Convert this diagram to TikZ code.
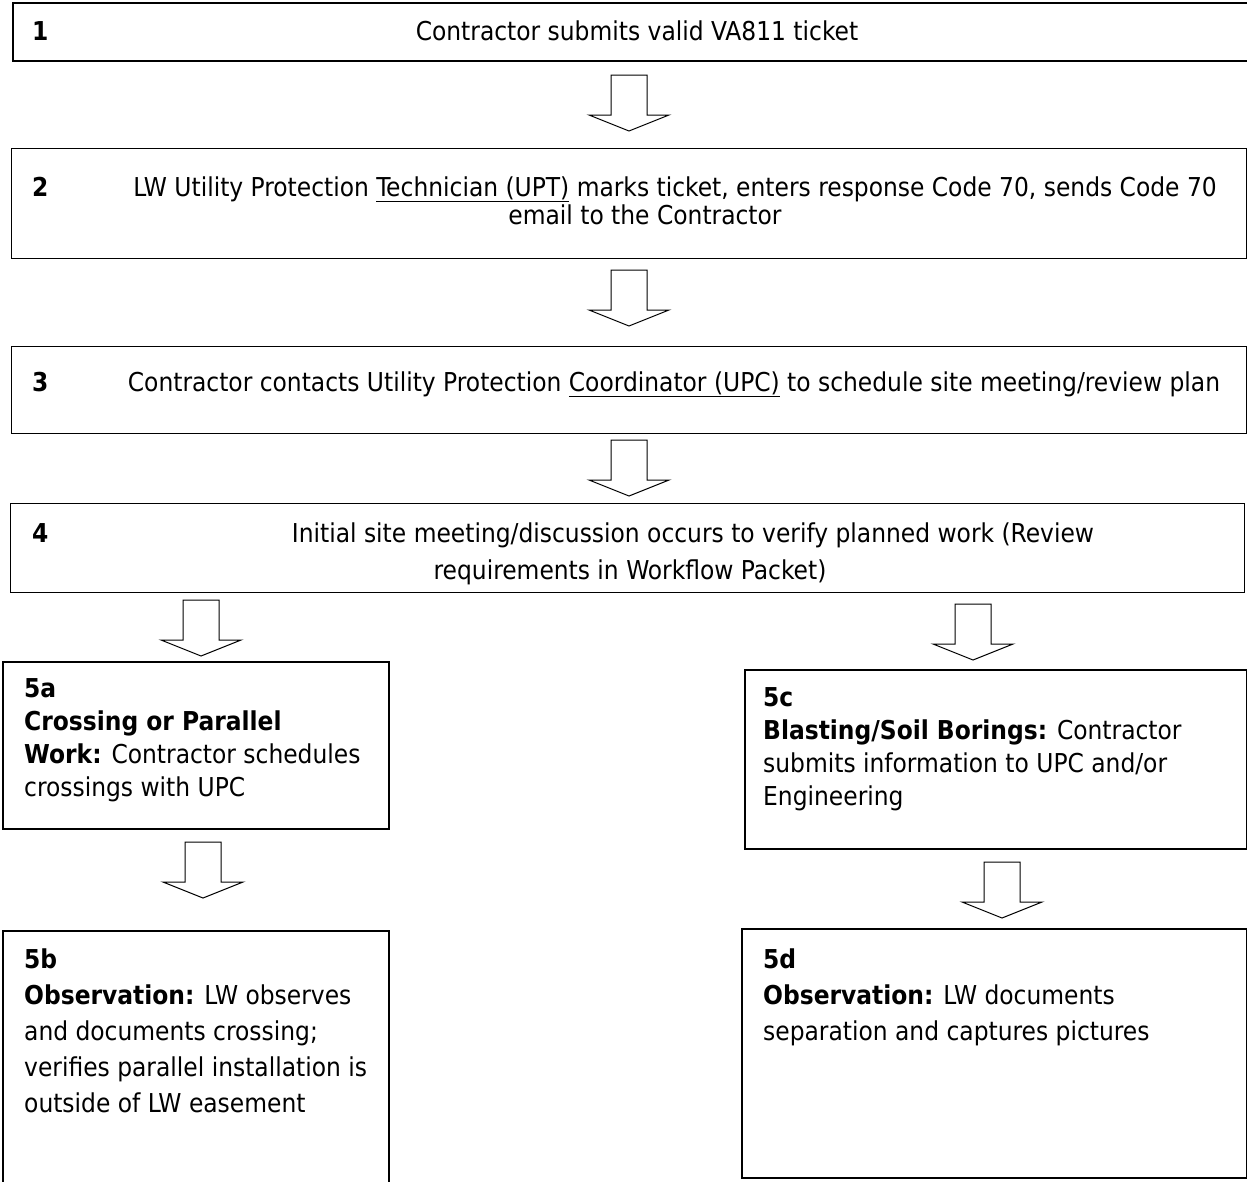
\documentclass[tikz,border=0pt]{standalone}
\usepackage{fontspec}
\setmainfont{DejaVu Sans Condensed}
\begin{document}
\begin{tikzpicture}[x=1pt,y=-1pt,
  box/.style={draw, line width=1.6pt, rectangle, inner sep=0pt, anchor=north west},
  txt/.style={anchor=base, inner sep=0pt, font=\fontsize{26}{34}\selectfont},
  ltxt/.style={txt, anchor=base west},
  blockarrow/.pic={\draw[line width=1pt, fill=white, line join=miter] (-18,0) -- (18,0) -- (18,40) -- (40,40) -- (0,56) -- (-40,40) -- (-18,40) -- cycle;}
]
\clip (0,0) rectangle (1247,1181);
\fill[white] (0,0) rectangle (1247,1181);
% boxes
\node[box, minimum width=1260, minimum height=58] (b1) at (12,2) {};
\node[box, line width=1.2pt, minimum width=1235, minimum height=110] (b2) at (11,148) {};
\node[box, line width=1.2pt, minimum width=1235, minimum height=87] (b3) at (11,346) {};
\node[box, line width=1.2pt, minimum width=1234, minimum height=89] (b4) at (10,503) {};
\node[box, minimum width=386, minimum height=167] (b5a) at (2,661) {};
\node[box, minimum width=502, minimum height=179] (b5c) at (744,669) {};
\node[box, minimum width=386, minimum height=300] (b5b) at (2,930) {};
\node[box, minimum width=505, minimum height=249] (b5d) at (741,928) {};
% arrows
\pic at (629,75) {blockarrow};
\pic at (629,270) {blockarrow};
\pic at (629,440) {blockarrow};
\pic at (201,600) {blockarrow};
\pic at (973,604) {blockarrow};
\pic at (203,842) {blockarrow};
\pic at (1002,862) {blockarrow};
% texts
\node[ltxt] (n1) at (32,40) {\textbf{1}};
\node[txt] (t1) at (637,40) {Contractor submits valid VA811 ticket};
\node[ltxt] (n2) at (32,196) {\textbf{2}};
\node[txt] (t2a) at (675,196) {LW Utility Protection \underline{Technician (UPT)} marks ticket, enters response Code 70, sends Code 70};
\node[txt] (t2b) at (645,224) {email to the Contractor};
\node[ltxt] (n3) at (32,391) {\textbf{3}};
\node[txt] (t3) at (674,391) {Contractor contacts Utility Protection \underline{Coordinator (UPC)} to schedule site meeting/review plan};
\node[ltxt] (n4) at (32,542) {\textbf{4}};
\node[txt] (t4a) at (693,542) {Initial site meeting/discussion occurs to verify planned work (Review};
\node[txt] (t4b) at (630,579) {requirements in Workflow Packet)};
\node[ltxt] (a1) at (24,697) {\textbf{5a}};
\node[ltxt] (a2) at (24,730) {\textbf{Crossing or Parallel}};
\node[ltxt] (a3) at (24,763) {\textbf{Work:} Contractor schedules};
\node[ltxt] (a4) at (24,796) {crossings with UPC};
\node[ltxt] (c1) at (763,706) {\textbf{5c}};
\node[ltxt] (c2) at (763,739) {\textbf{Blasting/Soil Borings:} Contractor};
\node[ltxt] (c3) at (763,772) {submits information to UPC and/or};
\node[ltxt] (c4) at (763,805) {Engineering};
\node[ltxt] (d1) at (24,968) {\textbf{5b}};
\node[ltxt] (d2) at (24,1004) {\textbf{Observation:} LW observes};
\node[ltxt] (d3) at (24,1040) {and documents crossing;};
\node[ltxt] (d4) at (24,1076) {verifies parallel installation is};
\node[ltxt] (d5) at (24,1112) {outside of LW easement};
\node[ltxt] (e1) at (763,968) {\textbf{5d}};
\node[ltxt] (e2) at (763,1004) {\textbf{Observation:} LW documents};
\node[ltxt] (e3) at (763,1040) {separation and captures pictures};
\end{tikzpicture}
\end{document}
